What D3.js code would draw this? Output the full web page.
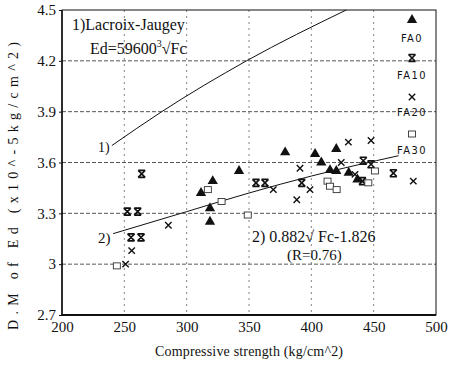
<!DOCTYPE html>
<html><head><meta charset="utf-8">
<script src="https://cdn.jsdelivr.net/npm/d3@7"></script>
<style>body{margin:0;background:#fff}svg{display:block}</style>
</head><body>
<svg id="c" width="449" height="367"></svg>
<script>
// ---- data ----
const xTicks = [200, 250, 300, 350, 400, 450, 500];
const yTicks = [2.7, 3, 3.3, 3.6, 3.9, 4.2, 4.5];
const yTickLabels = ["2.7", "3", "3.3", "3.6", "3.9", "4.2", "4.5"];
const seriesNames = ["FA0", "FA10", "FA20", "FA30"];
const fa0 = [[311.5,3.42],[318.7,3.33],[318.7,3.25],[320.9,3.49],[342,3.55],[379,3.66],[403,3.65],[408,3.60],[415,3.555],[420,3.68],[420,3.55],[430,3.54],[437,3.50]];
const fa10 = [[252.4,3.31],[260.7,3.31],[255.4,3.158],[263.4,3.158],[263.9,3.533],[355.6,3.48],[362.8,3.48],[392.3,3.48],[441.7,3.61],[447.9,3.59],[465.8,3.537],[441,3.49]];
const fa20 = [[255.9,3.08],[285.3,3.23],[251,3.0],[369.5,3.44],[388.3,3.38],[390.9,3.566],[398.9,3.44],[429.7,3.72],[447.9,3.73],[481.8,3.49],[424,3.60],[435,3.53]];
const fa30 = [[244,2.99],[317,3.44],[349,3.29],[413,3.49],[415,3.46],[420.3,3.44],[445.7,3.48],[451,3.55],[328,3.37]];
const line1 = [[240,3.70],[280,3.90],[348,4.20],[428,4.50]];   // Lacroix-Jaugey
const line2 = [[241,3.18],[300,3.31],[350,3.42],[400,3.52],[470,3.64]]; // regression

// ---- layout ----
const svg = d3.select("#c");
const L = 62, R = 436, T = 10, B = 315;
const x = d3.scaleLinear().domain([200, 500]).range([L, R]);
const y = d3.scaleLinear().domain([2.7, 4.5]).range([B, T]);
const ink = "#111";
const serif = "'Liberation Serif','Times New Roman',serif";

// gridlines
const g = svg.append("g");
g.selectAll(".hg").data(yTicks.filter(v => v > 2.8 && v < 4.4)).join("line")
  .attr("x1", L).attr("x2", R).attr("y1", d => y(d)).attr("y2", d => y(d))
  .attr("stroke", "#444").attr("stroke-width", 0.9).attr("stroke-dasharray", "4,2");
g.selectAll(".vg").data(xTicks.filter(v => v > 200 && v < 500)).join("line")
  .attr("y1", T).attr("y2", B).attr("x1", d => x(d)).attr("x2", d => x(d))
  .attr("stroke", "#666").attr("stroke-width", 0.8).attr("stroke-dasharray", "2,4");

// frame
svg.append("rect").attr("x", L).attr("y", T).attr("width", R - L).attr("height", B - T)
  .attr("fill", "none").attr("stroke", ink).attr("stroke-width", 1);
svg.append("line").attr("x1", L).attr("x2", R).attr("y1", B).attr("y2", B).attr("stroke", ink).attr("stroke-width", 2);
svg.append("line").attr("x1", L).attr("x2", L).attr("y1", T).attr("y2", B).attr("stroke", ink).attr("stroke-width", 1.5);

// axes
const yAxis = d3.axisLeft(y).tickValues(yTicks).tickSize(3).tickPadding(3)
  .tickFormat((d, i) => yTickLabels[i]);
const ya = svg.append("g").attr("transform", `translate(${L},0)`).call(yAxis);
ya.select(".domain").remove();
ya.selectAll("text").attr("font-family", serif).attr("font-size", 15).attr("fill", ink);
ya.selectAll("line").attr("stroke", ink);

const xAxis = d3.axisBottom(x).tickValues(xTicks).tickSize(0).tickPadding(6).tickFormat(d3.format("d"));
const xa = svg.append("g").attr("transform", `translate(0,${B})`).call(xAxis);
xa.select(".domain").remove();
xa.selectAll("text").attr("font-family", serif).attr("font-size", 15).attr("fill", ink);

// axis titles
svg.append("text").attr("x", (L + R) / 2).attr("y", 356).attr("text-anchor", "middle")
  .attr("font-family", serif).attr("font-size", 14).attr("fill", ink)
  .attr("textLength", 188).attr("lengthAdjust", "spacing")
  .text("Compressive strength (kg/cm^2)");
svg.append("text").attr("transform", "translate(18,186) rotate(-90)").attr("text-anchor", "middle")
  .attr("font-family", serif).attr("font-size", 14).attr("fill", ink)
  .attr("textLength", 288).attr("lengthAdjust", "spacing")
  .text("D.M of Ed (x10^-5kg/cm^2)");

// curves
const lineGen = d3.line().x(d => x(d[0])).y(d => y(d[1])).curve(d3.curveMonotoneX);
svg.append("path").datum(line1).attr("d", lineGen).attr("fill", "none").attr("stroke", ink).attr("stroke-width", 1);
svg.append("path").datum(line2).attr("d", lineGen).attr("fill", "none").attr("stroke", ink).attr("stroke-width", 1);

// markers
function drawMarker(sel, type) {
  if (type === 0) {
    sel.append("path").attr("d", d3.symbol().type(d3.symbolTriangle).size(46)).attr("fill", ink);
  } else if (type === 1) {
    const s = 3.5;
    sel.append("path").attr("d", `M${-s},${-s}L${s},${s}M${-s},${s}L${s},${-s}M${-s},${-s}L${s},${-s}M${-s},${s}L${s},${s}`)
      .attr("stroke", ink).attr("stroke-width", 1.6).attr("fill", "none");
  } else if (type === 2) {
    const s = 3.2;
    sel.append("path").attr("d", `M${-s},${-s}L${s},${s}M${-s},${s}L${s},${-s}`)
      .attr("stroke", ink).attr("stroke-width", 1.4).attr("fill", "none");
  } else {
    sel.append("rect").attr("x", -3.5).attr("y", -3).attr("width", 7).attr("height", 6)
      .attr("fill", "#fff").attr("stroke", "#333").attr("stroke-width", 0.9);
  }
}
[fa0, fa10, fa20, fa30].forEach((data, k) => {
  svg.append("g").selectAll("g").data(data).join("g")
    .attr("transform", d => `translate(${x(d[0])},${y(d[1])})`)
    .each(function () { drawMarker(d3.select(this), k); });
});

// legend
const legY = [20, 58, 97, 134];
const legLabY = [42, 79, 116, 154];
seriesNames.forEach((name, k) => {
  const m = svg.append("g").attr("transform", `translate(412,${legY[k]})`);
  drawMarker(m, k);
  svg.append("text").attr("x", 412).attr("y", legLabY[k]).attr("text-anchor", "middle")
    .attr("font-family", "'DejaVu Sans Condensed','DejaVu Sans',sans-serif").attr("font-size", 11)
    .attr("letter-spacing", 1.5).attr("fill", ink).text(name);
});

// annotations
const ann = svg.append("g").attr("font-family", serif).attr("fill", ink);
ann.append("text").attr("x", 72).attr("y", 30).attr("font-size", 16).text("1)Lacroix-Jaugey");
const eq = ann.append("text").attr("x", 90).attr("y", 54).attr("font-size", 16);
eq.append("tspan").text("Ed=59600");
eq.append("tspan").attr("font-size", 10).attr("dy", -7).text("3");
eq.append("tspan").attr("dy", 7).text("\u221AFc");
ann.append("text").attr("x", 98).attr("y", 152).attr("font-size", 14).text("1)");
ann.append("text").attr("x", 98).attr("y", 243).attr("font-size", 15).text("2)");
ann.append("text").attr("x", 252).attr("y", 242).attr("font-size", 16).text("2) 0.882\u221A Fc-1.826");
ann.append("text").attr("x", 287).attr("y", 260).attr("font-size", 15).text("(R=0.76)");
</script>
</body></html>
